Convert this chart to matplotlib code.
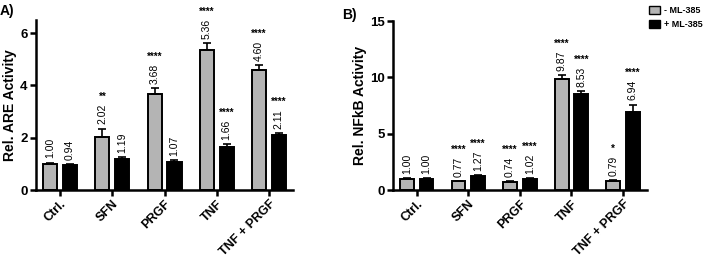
import numpy as np
import matplotlib
matplotlib.use('Agg')
import matplotlib.pyplot as plt
from matplotlib.patches import Patch

plt.rcParams['font.family'] = ['Liberation Sans', 'DejaVu Sans']

groups = ['Ctrl.', 'SFN', 'PRGF', 'TNF', 'TNF + PRGF']

# panel A - ARE activity
are_minus = [1.00, 2.02, 3.68, 5.36, 4.60]
are_minus_err = [0.05, 0.33, 0.22, 0.25, 0.18]
are_plus = [0.94, 1.19, 1.07, 1.66, 2.11]
are_plus_err = [0.05, 0.07, 0.06, 0.09, 0.08]
are_minus_sig = ['', '**', '****', '****', '****']
are_plus_sig = ['', '', '', '****', '****']

# panel B - NFkB activity
nfkb_minus = [1.00, 0.77, 0.74, 9.87, 0.79]
nfkb_minus_err = [0.05, 0.05, 0.05, 0.30, 0.12]
nfkb_plus = [1.00, 1.27, 1.02, 8.53, 6.94]
nfkb_plus_err = [0.05, 0.08, 0.05, 0.25, 0.65]
nfkb_minus_sig = ['', '****', '****', '****', '*']
nfkb_plus_sig = ['', '****', '****', '****', '****']

grey = '#b4b4b4'
barWidth = 0.27
off = 0.19


def panel(ax, minus, minus_err, plus, plus_err, sig_m, sig_p, ylim, yticks, ylabel):
    x = np.arange(len(groups))
    for pos, vals, errs, sigs, col in [(x - off, minus, minus_err, sig_m, grey),
                                       (x + off, plus, plus_err, sig_p, 'black')]:
        ax.bar(pos, vals, width=barWidth, color=col, edgecolor='black', linewidth=1.4, zorder=2)
        ax.errorbar(pos, vals, yerr=[np.zeros(len(vals)), errs], fmt='none', ecolor='black',
                    elinewidth=1.2, capsize=3, capthick=1.2, zorder=3)
        for p, v, e, s in zip(pos, vals, errs, sigs):
            ax.annotate('%.2f' % v, (p, v + e), xytext=(0, 3), textcoords='offset points',
                        rotation=90, ha='center', va='bottom', fontsize=7.5)
            if s:
                ax.annotate(s, (p, v + e), xytext=(0, 19), textcoords='offset points',
                            ha='center', va='bottom', fontsize=7, fontweight='bold')
    ax.set_xlim(-0.46, len(groups) - 0.54)
    ax.set_ylim(*ylim)
    ax.set_yticks(yticks)
    ax.set_xticks(x)
    ax.set_xticklabels(groups, rotation=45, ha='right', rotation_mode='anchor',
                       fontweight='bold', fontsize=9)
    for lab in ax.get_yticklabels():
        lab.set_fontweight('bold')
        lab.set_fontsize(9.5)
    ax.set_ylabel(ylabel, fontweight='bold', fontsize=10, labelpad=2)
    for sp in ['top', 'right']:
        ax.spines[sp].set_visible(False)
    for sp in ['left', 'bottom']:
        ax.spines[sp].set_linewidth(1.8)
    ax.tick_params(width=1.8, length=4, pad=2)


fig = plt.figure(figsize=(7.09, 2.66), dpi=100)
axA = fig.add_axes([0.0508, 0.2857, 0.3625, 0.639])
axB = fig.add_axes([0.5543, 0.2857, 0.358, 0.635])

panel(axA, are_minus, are_minus_err, are_plus, are_plus_err, are_minus_sig, are_plus_sig,
      (0, 6.5), [0, 2, 4, 6], 'Rel. ARE Activity')
panel(axB, nfkb_minus, nfkb_minus_err, nfkb_plus, nfkb_plus_err, nfkb_minus_sig, nfkb_plus_sig,
      (0, 15), [0, 5, 10, 15], 'Rel. NFkB Activity')

fig.text(0.0, 0.985, 'A)', fontweight='bold', fontsize=10, va='top')
fig.text(0.483, 0.97, 'B)', fontweight='bold', fontsize=10, va='top')

handles = [Patch(facecolor=grey, edgecolor='black', label='- ML-385'),
           Patch(facecolor='black', edgecolor='black', label='+ ML-385')]
fig.legend(handles=handles, loc='upper right', bbox_to_anchor=(1.0, 1.0), frameon=False,
           prop={'weight': 'bold', 'size': 6.5}, handlelength=1.2, handleheight=1.0,
           handletextpad=0.5, labelspacing=0.5, borderaxespad=0.3)

fig.savefig('out.png', dpi=100)
